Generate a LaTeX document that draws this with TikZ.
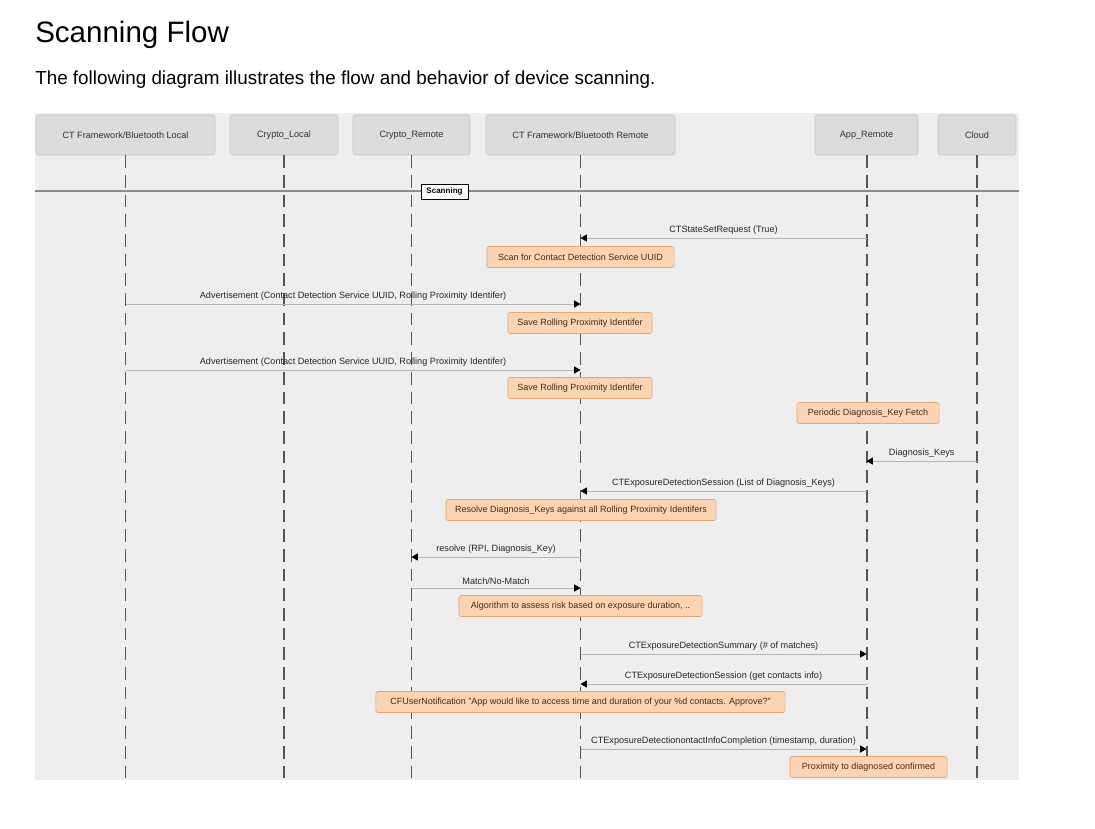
\documentclass[tikz,border=0pt]{standalone}
\usepackage{fontspec}
\setmainfont{Liberation Sans}
\usetikzlibrary{arrows.meta, positioning}

\definecolor{panelgray}{HTML}{EEEEEE}
\definecolor{partfill}{HTML}{DCDCDC}
\definecolor{partline}{HTML}{C4C4C4}
\definecolor{notefill}{HTML}{FAD4B3}
\definecolor{noteline}{HTML}{E2A878}
\definecolor{notetext}{HTML}{4A2A14}
\definecolor{msggray}{HTML}{B5B5B5}
\definecolor{lifegray}{HTML}{555555}

\tikzset{
  participant/.style={draw=partline, fill=partfill, rounded corners=2pt, minimum height=1cm,
    text=black!80, font=\fontsize{6.5}{7}\selectfont},
  lifeline/.style={draw=lifegray, line width=1.4pt, dash pattern=on 9pt off 5pt},
  note/.style={draw=noteline, fill=notefill, rounded corners=1.5pt, minimum height=0.525cm,
    text=notetext, font=\fontsize{6.4}{7}\selectfont},
  msg/.style={draw=msggray, line width=0.5pt, -{Triangle[length=4.5pt, width=5pt, color=black]}},
  msglabel/.style={midway, above=2.5pt, inner sep=0pt, text=black!85, font=\fontsize{6.5}{7}\selectfont},
}

\begin{document}
\begin{tikzpicture}[x=0.025cm, y=-0.025cm]
\useasboundingbox (0,0) rectangle (1095,828);
\fill[white] (0,0) rectangle (1095,828);

% heading
\node[anchor=base west, inner sep=0pt, font=\fontsize{21}{24}\selectfont] (title) at (35,43) {Scanning Flow};
\node[anchor=base west, inner sep=0pt, font=\fontsize{13.4}{15}\selectfont] (intro) at (35,84)
  {The following diagram illustrates the flow and behavior of device scanning.};

% panel
\fill[panelgray] (35,113) rectangle (1019,780);

% participants
\node[participant, minimum width=4.475cm] (pLocal) at (125.5,135) {CT Framework/Bluetooth Local};
\node[participant, minimum width=2.7cm] (pCryptoL) at (284,135) {Crypto\_Local};
\node[participant, minimum width=2.925cm] (pCryptoR) at (411.5,135) {Crypto\_Remote};
\node[participant, minimum width=4.725cm] (pRemote) at (580.5,135) {CT Framework/Bluetooth Remote};
\node[participant, minimum width=2.575cm] (pApp) at (866.5,135) {App\_Remote};
\node[participant, minimum width=1.95cm] (pCloud) at (977,135) {Cloud};

\coordinate (bottom) at (0,780);

% scanning divider
\draw[draw=black!45, line width=1.5pt] (35,191) -- (1019,191);

% lifelines
\foreach \p in {pLocal, pCryptoL, pCryptoR, pRemote, pApp, pCloud}
  \draw[lifeline] (\p.south) -- (\p.south |- bottom);

\node[draw=black, fill=white, line width=0.5pt, minimum width=1.175cm, minimum height=0.375cm,
  inner sep=0pt, font=\bfseries\fontsize{5.7}{6}\selectfont] (scanning) at (444.5,191.5) {Scanning};

% messages and notes
\draw[msg] (pApp |- 0,238) -- (pRemote |- 0,238) node[msglabel] {CTStateSetRequest (True)};
\node[note, minimum width=4.675cm] (nScan) at (580.5,257) {Scan for Contact Detection Service UUID};

\draw[msg] (pLocal |- 0,304) -- (pRemote |- 0,304)
  node[msglabel] {Advertisement (Contact Detection Service UUID, Rolling Proximity Identifer)};
\node[note, minimum width=3.6cm] (nSave1) at (580,323) {Save Rolling Proximity Identifer};

\draw[msg] (pLocal |- 0,370) -- (pRemote |- 0,370)
  node[msglabel] {Advertisement (Contact Detection Service UUID, Rolling Proximity Identifer)};
\node[note, minimum width=3.6cm] (nSave2) at (580,388) {Save Rolling Proximity Identifer};

\node[note, minimum width=3.55cm] (nFetch) at (868,413) {Periodic Diagnosis\_Key Fetch};

\draw[msg] (pCloud |- 0,461) -- (pApp |- 0,461) node[msglabel] {Diagnosis\_Keys};
\draw[msg] (pApp |- 0,491) -- (pRemote |- 0,491)
  node[msglabel] {CTExposureDetectionSession (List of Diagnosis\_Keys)};
\node[note, minimum width=6.75cm] (nResolve) at (581,510)
  {Resolve Diagnosis\_Keys against all Rolling Proximity Identifers};

\draw[msg] (pRemote |- 0,557) -- (pCryptoR |- 0,557) node[msglabel] {resolve (RPI, Diagnosis\_Key)};
\draw[msg] (pCryptoR |- 0,588) -- (pRemote |- 0,588) node[msglabel] {Match/No-Match};
\node[note, minimum width=6.075cm] (nRisk) at (580.5,606)
  {Algorithm to assess risk based on exposure duration, ..};

\draw[msg] (pRemote |- 0,654) -- (pApp |- 0,654) node[msglabel] {CTExposureDetectionSummary (\# of matches)};
\draw[msg] (pApp |- 0,684) -- (pRemote |- 0,684)
  node[msglabel] {CTExposureDetectionSession (get contacts info)};
\node[note, minimum width=10.225cm] (nAsk) at (580.5,702)
  {CFUserNotification "App would like to access time and duration of your \%d contacts. Approve?"};

\draw[msg] (pRemote |- 0,749) -- (pApp |- 0,749)
  node[msglabel] {CTExposureDetectionontactInfoCompletion (timestamp, duration)};
\node[note, minimum width=3.925cm] (nDone) at (868.5,767) {Proximity to diagnosed confirmed};
\end{tikzpicture}
\end{document}
